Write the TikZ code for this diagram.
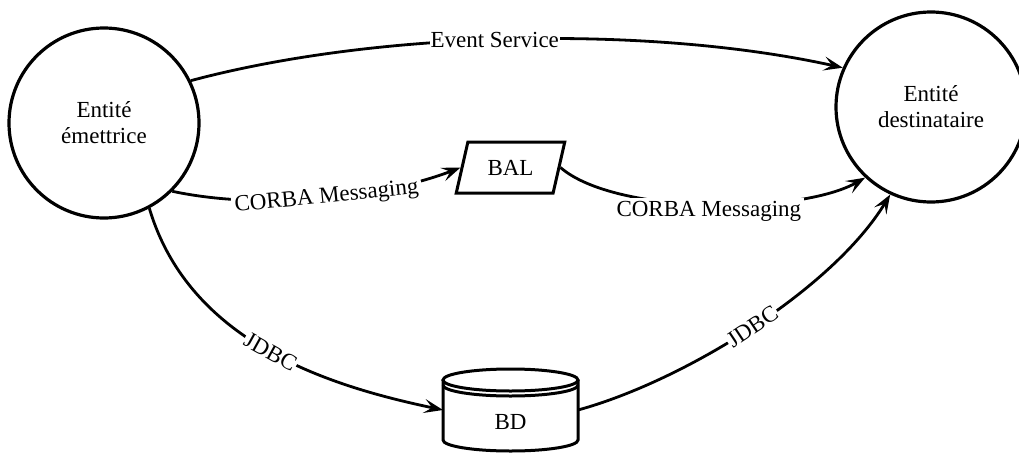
\documentclass[tikz,border=0pt]{standalone}
\usepackage{fontspec}
\setmainfont{Liberation Serif}
\usetikzlibrary{arrows.meta,shapes.geometric}
\begin{document}
\begin{tikzpicture}[x=1pt,y=-1pt,
  font=\fontsize{23}{26}\selectfont,
  entity/.style={circle,draw,line width=3.2pt,minimum size=190pt,inner sep=0pt,align=center},
  conn/.style={line width=2.8pt,-{Stealth[length=19pt,width=14pt,inset=8pt]}},
  lbl/.style={fill=white,inner sep=3pt},
  shapeline/.style={line width=3pt}]
\useasboundingbox (0,0) rectangle (1019,452);

\node[entity] (src) at (104,123) {Entité\\émettrice};
\node[entity] (dst) at (931,107) {Entité\\destinataire};

\node[trapezium, draw, shapeline, trapezium left angle=67.6, trapezium right angle=112.4,
  trapezium stretches=true, minimum width=109pt, minimum height=51pt, inner sep=0pt] (bal) at (510.5,167.5) {BAL};

\node[inner sep=0pt, outer sep=0pt, minimum width=135pt, minimum height=20pt] (bd) at (510.5,422) {BD};
\draw[shapeline] (443,380) -- (443,440) arc[start angle=180,end angle=360,x radius=67.5pt,y radius=11pt] -- (578,380);
\draw[shapeline] (510.5,380) ellipse[x radius=67.5pt, y radius=11pt];
\draw[shapeline] (443,385) arc[start angle=180,end angle=360,x radius=67.5pt,y radius=11pt];

\draw[conn] (src.26.6) .. controls (380,30) and (650,25) .. (dst.156)
  node[pos=0.47,lbl,inner sep=1pt]{Event Service};
\draw[conn] (src.-45) .. controls (270,212) and (390,195) .. (bal.left side)
  node[pos=0.5,lbl,sloped]{CORBA Messaging};
\draw[conn] (bal.right side) .. controls (615,215) and (800,215) .. (dst.227)
  node[pos=0.5,lbl,yshift=-7pt]{CORBA Messaging};
\draw[conn] (src.-62.6) .. controls (190,345) and (334,387) .. ([yshift=12pt]bd.west)
  node[pos=0.5,lbl,sloped,inner sep=1pt]{JDBC};
\draw[conn] ([yshift=12pt]bd.east) .. controls (684,381) and (833,289) .. (dst.245)
  node[pos=0.5,lbl,sloped,inner sep=1pt]{JDBC};
\end{tikzpicture}
\end{document}
